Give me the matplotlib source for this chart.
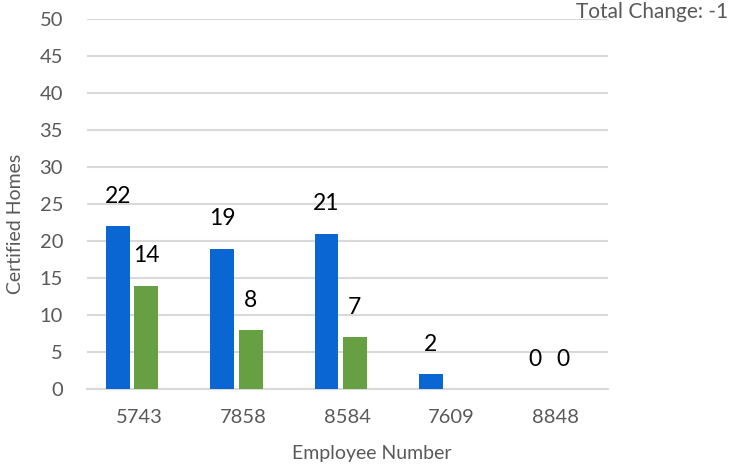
import matplotlib
matplotlib.use("Agg")
import matplotlib.pyplot as plt
import numpy as np

categories = ["5743", "7858", "8584", "7609", "8848"]
series_blue = [22, 19, 21, 2, 0]
series_green = [14, 8, 7, None, 0]
y_ticks = [0, 5, 10, 15, 20, 25, 30, 35, 40, 45, 50]
title_text = "Total Change: -1"
x_title = "Employee Number"
y_title = "Certified Homes"

plt.rcParams['font.family'] = ['Lato', 'DejaVu Sans']

W, H = 730, 469
fig = plt.figure(figsize=(W / 100, H / 100), dpi=100)
left, right, top, bottom = 86.7, 608, 19, 389.3
ax = fig.add_axes([left / W, (H - bottom) / H, (right - left) / W, (bottom - top) / H])

x = np.arange(len(categories))
bw = 0.23
off_blue = -0.20
off_green = 0.072
blue = "#0966D3"
green = "#67A042"
grey_text = "#595959"

ax.bar(x + off_blue, series_blue, width=bw, color=blue, zorder=3)
gvals = [np.nan if v is None else v for v in series_green]
ax.bar(x + off_green, gvals, width=bw, color=green, zorder=3)

for xi, v in zip(x, series_blue):
    if v is not None:
        ax.annotate(str(v), (xi + off_blue, v), xytext=(0, 14), textcoords="offset points",
                    ha="center", va="bottom", fontsize=16.5, color="black")
for xi, v in zip(x, series_green):
    if v is not None:
        ax.annotate(str(v), (xi + off_green, v), xytext=(0, 14), textcoords="offset points",
                    ha="center", va="bottom", fontsize=16.5, color="black")

ax.set_xlim(-0.5, len(categories) - 0.5)
ax.set_ylim(0, 50)
ax.set_yticks(y_ticks)
ax.set_xticks(x)
ax.set_xticklabels(categories)
ax.yaxis.grid(True, color="#D9D9D9", linewidth=1.5, zorder=0)
ax.set_axisbelow(True)
for s in ["top", "right", "left"]:
    ax.spines[s].set_visible(False)
ax.spines["bottom"].set_color("#D9D9D9")
ax.spines["bottom"].set_linewidth(1.5)
ax.tick_params(axis="both", length=0, labelsize=14.5, colors=grey_text)
ax.tick_params(axis="y", pad=17)
ax.tick_params(axis="x", pad=14)

fig.text(372 / W, (H - 453) / H, x_title, ha="center", va="center", fontsize=14, color=grey_text)
fig.text(16 / W, (H - 224) / H, y_title, ha="center", va="center", rotation=90,
         fontsize=14, color=grey_text)

fig.text(728 / W, (H - 18) / H, title_text, ha="right", va="baseline", fontsize=15, color=grey_text)

fig.savefig("out.png", dpi=100)
